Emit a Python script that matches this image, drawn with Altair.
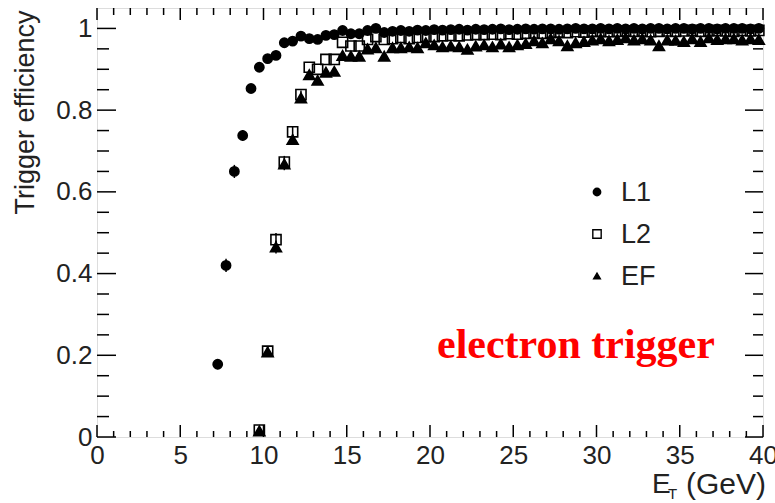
import altair as alt
import pandas as pd

# ---------------- data ----------------
ET_L1 = [7.25, 7.75, 8.25, 8.75, 9.25, 9.75, 10.25, 10.75, 11.25, 11.75,
         12.25, 12.75, 13.25, 13.75, 14.25, 14.75, 15.25, 15.75, 16.25, 16.75,
         17.25, 17.75, 18.25, 18.75, 19.25, 19.75, 20.25, 20.75, 21.25, 21.75,
         22.25, 22.75, 23.25, 23.75, 24.25, 24.75, 25.25, 25.75, 26.25, 26.75,
         27.25, 27.75, 28.25, 28.75, 29.25, 29.75, 30.25, 30.75, 31.25, 31.75,
         32.25, 32.75, 33.25, 33.75, 34.25, 34.75, 35.25, 35.75, 36.25, 36.75,
         37.25, 37.75, 38.25, 38.75, 39.25, 39.75]
L1 = [0.178, 0.420, 0.650, 0.738, 0.853, 0.905, 0.926, 0.934, 0.965, 0.969,
      0.981, 0.975, 0.973, 0.983, 0.985, 0.995, 0.987, 0.987, 0.995, 1.000,
      0.990, 0.993, 0.995, 0.993, 0.996, 0.995, 0.997, 0.996, 0.997, 0.998,
      0.996, 0.998, 0.997, 0.998, 0.999, 0.997, 0.998, 0.999, 0.998, 0.999,
      0.999, 0.998, 0.999, 1.000, 0.999, 0.999, 1.000, 0.999, 1.000, 0.999,
      1.000, 0.999, 1.000, 1.000, 0.999, 1.000, 1.000, 0.999, 1.000, 1.000,
      0.999, 1.000, 1.000, 1.000, 0.999, 1.000]

ET_L2 = [9.75, 10.25, 10.75, 11.25, 11.75,
         12.25, 12.75, 13.25, 13.75, 14.25, 14.75, 15.25, 15.75, 16.25, 16.75,
         17.25, 17.75, 18.25, 18.75, 19.25, 19.75, 20.25, 20.75, 21.25, 21.75,
         22.25, 22.75, 23.25, 23.75, 24.25, 24.75, 25.25, 25.75, 26.25, 26.75,
         27.25, 27.75, 28.25, 28.75, 29.25, 29.75, 30.25, 30.75, 31.25, 31.75,
         32.25, 32.75, 33.25, 33.75, 34.25, 34.75, 35.25, 35.75, 36.25, 36.75,
         37.25, 37.75, 38.25, 38.75, 39.25, 39.75]
L2 = [0.017, 0.210, 0.483, 0.673, 0.747,
      0.838, 0.905, 0.900, 0.924, 0.924, 0.966, 0.957, 0.957, 0.973, 0.980,
      0.973, 0.975, 0.978, 0.975, 0.978, 0.980, 0.980, 0.982, 0.983, 0.982,
      0.984, 0.985, 0.985, 0.986, 0.985, 0.987, 0.986, 0.988, 0.989, 0.988,
      0.990, 0.991, 0.990, 0.992, 0.991, 0.993, 0.993, 0.992, 0.993, 0.994,
      0.993, 0.994, 0.992, 0.993, 0.994, 0.993, 0.994, 0.995, 0.993, 0.994,
      0.995, 0.994, 0.993, 0.995, 0.994, 0.995]
EF = [0.015, 0.208, 0.465, 0.668, 0.728,
      0.830, 0.887, 0.873, 0.893, 0.895, 0.934, 0.932, 0.932, 0.950, 0.953,
      0.932, 0.953, 0.953, 0.955, 0.953, 0.965, 0.960, 0.955, 0.957, 0.955,
      0.949, 0.957, 0.960, 0.955, 0.962, 0.955, 0.960, 0.963, 0.970, 0.965,
      0.975, 0.970, 0.958, 0.965, 0.968, 0.972, 0.975, 0.970, 0.973, 0.977,
      0.972, 0.975, 0.972, 0.958, 0.972, 0.971, 0.968, 0.975, 0.968, 0.977,
      0.973, 0.975, 0.975, 0.972, 0.975, 0.973]

# statistical errors on the rising edge
L1_ERR = [0.012, 0.016, 0.016, 0.013, 0.010, 0.008]
L2_ERR = [0.008, 0.012, 0.016, 0.015, 0.013, 0.010]
EF_ERR = [0.008, 0.012, 0.016, 0.015, 0.013, 0.010]

SERIES = ["L1", "L2", "EF"]
SHAPES = ["circle", "square", "triangle-up"]
FILLS = ["black", "rgba(255,255,255,0)", "black"]
SIZES = [85, 120, 52]
LEGEND_SIZES = [55, 70, 45]

X_MAJOR = [0, 5, 10, 15, 20, 25, 30, 35, 40]
X_MINOR = [1, 2, 3, 4, 6, 7, 8, 9, 11, 12, 13, 14, 16, 17, 18, 19, 21, 22, 23, 24,
           26, 27, 28, 29, 31, 32, 33, 34, 36, 37, 38, 39]
Y_MAJOR = [0, 0.2, 0.4, 0.6, 0.8, 1.0]
Y_MINOR = [0.05, 0.1, 0.15, 0.25, 0.3, 0.35, 0.45, 0.5, 0.55, 0.65, 0.7, 0.75,
           0.85, 0.9, 0.95]

# ---------------- tables ----------------
pts = pd.concat([
    pd.DataFrame({"et": ET_L1, "eff": L1, "series": "L1"}),
    pd.DataFrame({"et": ET_L2, "eff": L2, "series": "L2"}),
    pd.DataFrame({"et": ET_L2, "eff": EF, "series": "EF"}),
], ignore_index=True)

err_rows = []
for xs_, ys_, es_ in [(ET_L1, L1, L1_ERR), (ET_L2, L2, L2_ERR), (ET_L2, EF, EF_ERR)]:
    for x, y, e in zip(xs_, ys_, es_):
        err_rows.append({"et": x, "lo": y - e, "hi": y + e})
err = pd.DataFrame(err_rows)

W, H = 666, 429
FONT = "Liberation Sans"
TXT = "#222"

xs = alt.Scale(domain=[0, 40], nice=False, zero=False)
ys = alt.Scale(domain=[0, 1.05], nice=False, zero=False)
shape_scale = alt.Scale(domain=SERIES, range=SHAPES)
fill_scale = alt.Scale(domain=SERIES, range=FILLS)
size_scale = alt.Scale(domain=SERIES, range=SIZES)

x_axis = alt.Axis(values=X_MAJOR, ticks=False, domain=False, grid=False,
                  labelFontSize=26, labelFont=FONT, labelColor=TXT,
                  labelPadding=5, title=None, labelFlush=False)
y_axis = alt.Axis(values=Y_MAJOR, ticks=False, domain=False, grid=False,
                  format=".1~f", labelFontSize=26, labelFont=FONT,
                  labelColor=TXT, labelPadding=5,
                  title="Trigger efficiency", titleFont=FONT,
                  titleFontSize=27, titleFontWeight="normal",
                  titleColor=TXT, titleAngle=270, titleAlign="right",
                  titleBaseline="alphabetic", titleX=-64, titleY=2)

errbars = alt.Chart(err).mark_rule(color="black", strokeWidth=1.5).encode(
    x=alt.X("et:Q", scale=xs, axis=x_axis),
    y=alt.Y("lo:Q", scale=ys, axis=y_axis),
    y2="hi:Q",
)

points = alt.Chart(pts).mark_point(strokeWidth=1.6, opacity=1).encode(
    x=alt.X("et:Q", scale=xs),
    y=alt.Y("eff:Q", scale=ys),
    shape=alt.Shape("series:N", scale=shape_scale, legend=None),
    fill=alt.Fill("series:N", scale=fill_scale, legend=None),
    stroke=alt.value("black"),
    size=alt.Size("series:N", scale=size_scale, legend=None),
)


def tick_layer(values, channel, length, side):
    df = pd.DataFrame({"v": values})
    if channel == "x":
        if side == "bottom":
            enc = dict(x=alt.X("v:Q", scale=xs), y=alt.value(H), y2=alt.value(H - length))
        else:
            enc = dict(x=alt.X("v:Q", scale=xs), y=alt.value(0), y2=alt.value(length))
    else:
        if side == "left":
            enc = dict(y=alt.Y("v:Q", scale=ys), x=alt.value(0), x2=alt.value(length))
        else:
            enc = dict(y=alt.Y("v:Q", scale=ys), x=alt.value(W), x2=alt.value(W - length))
    return alt.Chart(df).mark_rule(color="black", strokeWidth=1.5).encode(**enc)


ticks = [
    tick_layer(X_MAJOR, "x", 12, "bottom"),
    tick_layer(X_MINOR, "x", 6, "bottom"),
    tick_layer(X_MAJOR, "x", 12, "top"),
    tick_layer(X_MINOR, "x", 7, "top"),
    tick_layer(Y_MAJOR, "y", 19, "left"),
    tick_layer(Y_MINOR, "y", 12, "left"),
    tick_layer(Y_MAJOR, "y", 18, "right"),
    tick_layer(Y_MINOR, "y", 10, "right"),
]

# ---------------- legend (built by hand, ROOT style) ----------------
legend_layers = []
for i, s in enumerate(SERIES):
    d = pd.DataFrame({"series": [s]})
    row_y = 184 + 42 * i
    legend_layers.append(
        alt.Chart(d).mark_point(strokeWidth=1.4, opacity=1).encode(
            x=alt.value(500), y=alt.value(row_y),
            shape=alt.Shape("series:N", scale=shape_scale, legend=None),
            fill=alt.Fill("series:N", scale=fill_scale, legend=None),
            stroke=alt.value("black"),
            size=alt.value(LEGEND_SIZES[i]),
        )
    )
    legend_layers.append(
        alt.Chart(d).mark_text(font=FONT, fontSize=27, color=TXT, align="left",
                               baseline="middle").encode(
            x=alt.value(524), y=alt.value(row_y + 1), text="series:N")
    )

lbl = pd.DataFrame({"t": ["E"]})
xtitle_E = alt.Chart(lbl).mark_text(text="E", font=FONT, fontSize=28, color=TXT,
                                    align="left", baseline="alphabetic").encode(
    x=alt.value(555), y=alt.value(485))
xtitle_T = alt.Chart(lbl).mark_text(text="T", font=FONT, fontSize=15, color=TXT,
                                    align="left", baseline="alphabetic").encode(
    x=alt.value(571), y=alt.value(491))
xtitle_G = alt.Chart(lbl).mark_text(text="(GeV)", font=FONT, fontSize=30, color=TXT,
                                    align="left", baseline="alphabetic").encode(
    x=alt.value(589), y=alt.value(486))
red = alt.Chart(lbl).mark_text(text="electron trigger", font="Liberation Serif",
                               fontSize=42, fontWeight="bold", color="#ff0000",
                               align="left", baseline="alphabetic").encode(
    x=alt.value(340), y=alt.value(350))

chart = alt.layer(errbars, points, *ticks, *legend_layers,
                  xtitle_E, xtitle_T, xtitle_G, red).properties(
    width=W, height=H,
    padding={"left": 97, "top": 8, "right": 12, "bottom": 66},
    autosize=alt.AutoSizeParams(type="none"),
).configure_view(stroke="black", strokeWidth=1.6).configure(background="white")

chart.save("out.html", embed_options={"renderer": "svg", "actions": False})
